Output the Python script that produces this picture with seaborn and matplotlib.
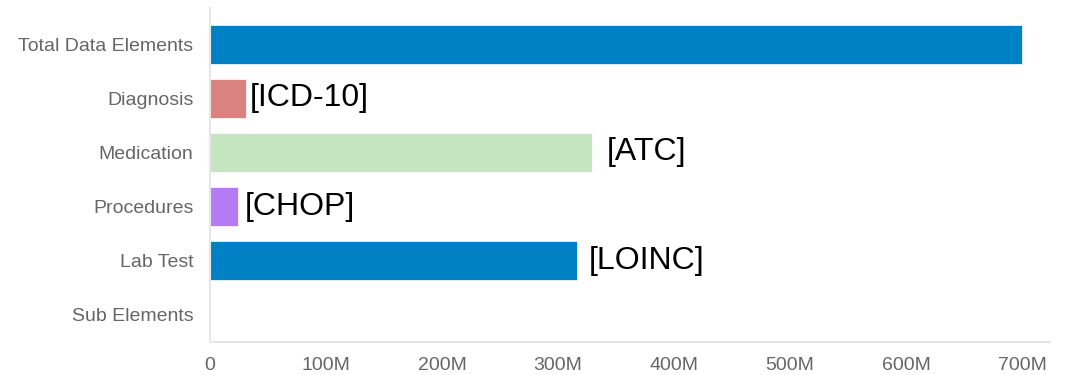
import matplotlib
matplotlib.use("Agg")
import matplotlib.pyplot as plt
import seaborn as sns
import pandas as pd
from matplotlib.ticker import FuncFormatter, MultipleLocator

categories = ["Total Data Elements", "Diagnosis", "Medication", "Procedures", "Lab Test", "Sub Elements"]
values_m = [700, 31, 329, 24, 316, 0]
bar_colors = ["#0081C6", "#D9827F", "#C5E5C0", "#B57BF5", "#0081C6", "#0081C6"]
annotations = ["", "[ICD-10]", "[ATC]", "[CHOP]", "[LOINC]", ""]
annot_offsets = [0, 4, 15, 7, 12, 0]

sns.set_theme(style="white")
plt.rcParams["font.family"] = ["Liberation Sans", "DejaVu Sans"]

df = pd.DataFrame({"category": categories, "value": values_m})

fig = plt.figure(figsize=(10.66, 3.75), dpi=100)
ax = fig.add_axes([210 / 1066, 1 - 342 / 375, 840 / 1066, 334 / 375])

sns.barplot(data=df, y="category", x="value", hue="category", palette=bar_colors,
            legend=False, orient="h", width=0.72, ax=ax, saturation=1,
            edgecolor="white", linewidth=0.5)

ax.set_xlim(0, 724)
ax.set_ylim(5.5, -0.667)
ax.xaxis.set_major_locator(MultipleLocator(100))
ax.xaxis.set_major_formatter(FuncFormatter(lambda v, p: "0" if v == 0 else f"{int(v)}M"))
ax.set_xlabel("")
ax.set_ylabel("")
ax.tick_params(axis="both", length=0, labelsize=14, labelcolor="#666666")
ax.tick_params(axis="y", pad=12)
ax.tick_params(axis="x", pad=11)

for s in ["top", "right"]:
    ax.spines[s].set_visible(False)
for s in ["left", "bottom"]:
    ax.spines[s].set_color("#e6e6e6")
    ax.spines[s].set_linewidth(1.5)

for i, (v, lab, off) in enumerate(zip(values_m, annotations, annot_offsets)):
    if lab:
        ax.annotate(lab, xy=(v, i), xytext=(off * 0.72, 0), textcoords="offset points",
                    va="center", ha="left", fontsize=23, color="black")

fig.savefig("out.png", dpi=100)
